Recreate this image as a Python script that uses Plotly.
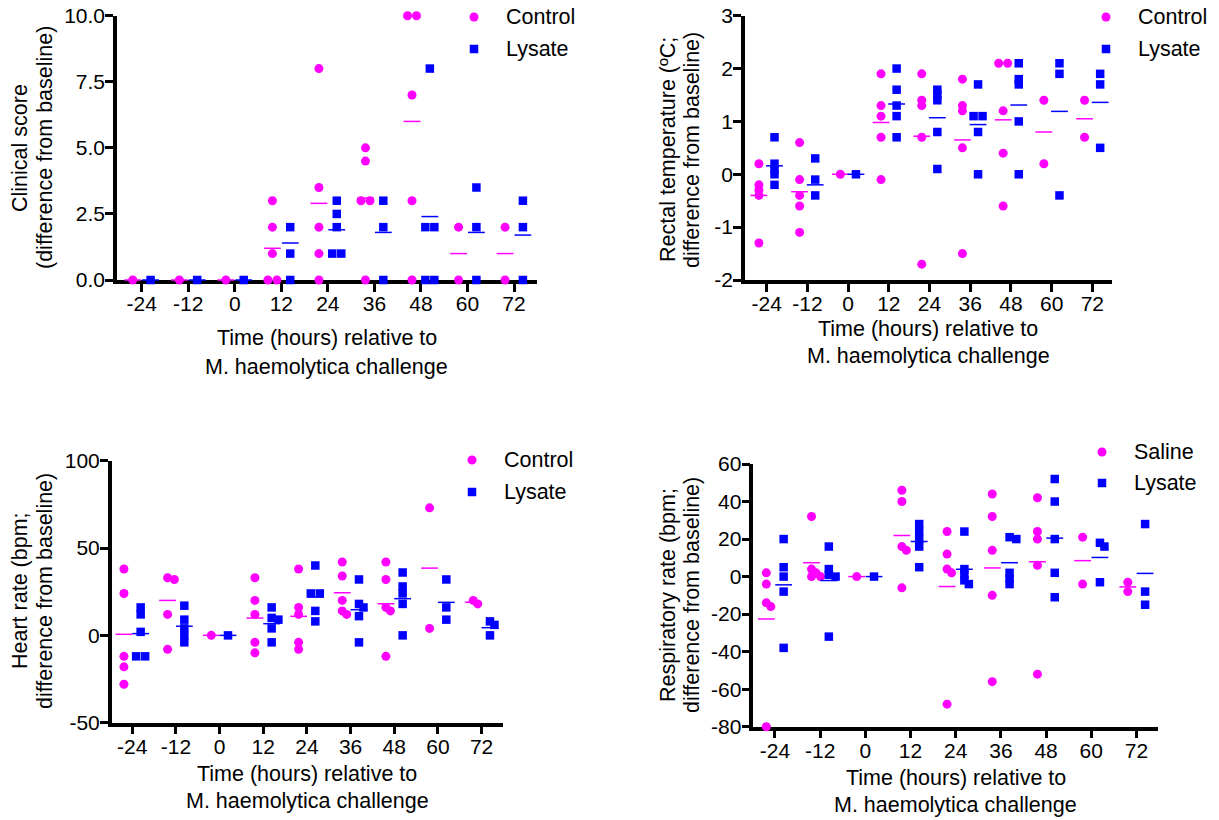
import plotly.graph_objects as go

W, H = 1219, 820
FONT = "Arial, Liberation Sans, Helvetica, sans-serif"
MAG = "#FF00FF"
BLU = "#0000FF"

TIMES = [-24, -12, 0, 12, 24, 36, 48, 60, 72]
TIME_LABELS = ["-24", "-12", "0", "12", "24", "36", "48", "60", "72"]

# ---------------- data ----------------
# Clinical score
clin_ctrl = [[0], [0], [0], [3, 2, 1, 0, 0], [8, 3.5, 2, 1, 0], [5, 4.5, 3, 3, 0],
             [10, 10, 7, 3, 0], [2, 0], [2, 0]]
clin_lys = [[0], [0], [0], [2, 1, 0], [3, 2.5, 2, 1, 1], [3, 2, 0],
            [8, 2, 2, 0, 0], [3.5, 2, 0], [3, 2, 0]]
clin_ctrl_mean = [0, 0, 0, 1.2, 2.9, 3.1, 6.0, 1.0, 1.0]
clin_lys_mean = [0, 0, 0, 1.4, 1.9, 1.8, 2.4, 1.8, 1.7]

# Rectal temperature
temp_ctrl = [[0.2, -0.2, -0.3, -0.4, -1.3], [0.6, -0.1, -0.4, -0.6, -1.1], [0],
             [1.9, 1.3, 1.1, 0.7, -0.1], [1.9, 1.4, 1.3, 0.7, -1.7], [1.8, 1.3, 1.2, 0.5, -1.5],
             [2.1, 2.1, 1.2, 0.4, -0.6], [1.4, 0.2], [1.4, 0.7]]
temp_lys = [[0.7, 0.2, 0.1, 0, -0.2], [0.3, -0.1, -0.4], [0],
            [2.0, 1.6, 1.3, 1.1, 0.7], [1.6, 1.5, 1.4, 0.8, 0.1], [1.7, 1.1, 1.1, 0.8, 0],
            [2.1, 1.8, 1.7, 1.0, 0], [2.1, 1.9, -0.4], [1.9, 1.7, 0.5]]
temp_ctrl_mean = [-0.4, -0.33, 0, 0.98, 0.72, 0.65, 1.03, 0.8, 1.05]
temp_lys_mean = [0.16, -0.2, 0, 1.33, 1.07, 0.94, 1.31, 1.19, 1.36]

# Heart rate
hr_ctrl = [[38, 24, -12, -18, -28], [33, 32, 12, -8], [0], [33, 20, 12, -4, -10],
           [38, 16, 12, -4, -8], [42, 34, 20, 14, 12], [42, 32, 16, 14, -12], [73, 4], [20, 18]]
hr_lys = [[16, 12, 2, -12, -12], [17, 9, 4, 0, -4], [0], [16, 10, 9, 4, -4],
          [40, 24, 24, 14, 8], [32, 18, 16, 11, -4], [36, 28, 24, 18, 0], [32, 16, 9], [8, 6, 0]]
hr_ctrl_mean = [0.6, 20, 0, 9.9, 10.9, 24.4, 18.1, 38.5, 19]
hr_lys_mean = [1.0, 5.2, 0, 6.7, 22, 14.7, 21.0, 18.9, 4.4]

# Respiratory rate
rr_ctrl = [[2, -4, -14, -16, -80], [32, 4, 2, 0, 0], [0], [46, 40, 16, 14, -6],
           [24, 12, 4, 2, -68], [44, 32, 14, -10, -56], [42, 24, 20, 6, -52], [21, -4], [-3, -8]]
rr_lys = [[20, 5, 0, -8, -38], [16, 4, 1, 0, -32], [0], [28, 24, 20, 16, 5],
          [24, 4, 1, -2, -4], [21, 20, 2, -1, -4], [52, 40, 20, 2, -11], [18, 16, -3], [28, -8, -15]]
rr_ctrl_mean = [-22.6, 7.4, 0, 21.9, -5.3, 4.6, 7.9, 8.5, -5.5]
rr_lys_mean = [-4.4, -2.1, 0, 18.7, 3.9, 7.4, 20.5, 10.2, 1.7]

# ---------------- layout of panels (pixels) ----------------
panels = [
    dict(key="", px=(117, 537), py=(15.7, 280), xr=(-30.37, 77.93), yr=(0, 10),
         yt=[0, 2.5, 5, 7.5, 10], ytt=["0.0", "2.5", "5.0", "7.5", "10.0"],
         ctrl=clin_ctrl, lys=clin_lys, cm=clin_ctrl_mean, lm=clin_lys_mean,
         ytitle=("Clinical score", "(difference from baseline)"), ytx=(20, 45), yty=148,
         xty=(338, 367), leg=("Control", "Lysate"), legx=474, legy=(17, 49)),
    dict(key="2", px=(745, 1111.7), py=(15.7, 280), xr=(-30.4, 77.7), yr=(-2, 3),
         yt=[-2, -1, 0, 1, 2, 3], ytt=["-2", "-1", "0", "1", "2", "3"],
         ctrl=temp_ctrl, lys=temp_lys, cm=temp_ctrl_mean, lm=temp_lys_mean,
         ytitle=("Rectal temperature (ºC;", "difference from baseline)"), ytx=(668, 692), yty=150,
         xty=(329, 356), leg=("Control", "Lysate"), legx=1106, legy=(17, 49)),
    dict(key="3", px=(111.7, 502.7), py=(460.7, 722.7), xr=(-29.66, 77.8), yr=(-50, 100),
         yt=[-50, 0, 50, 100], ytt=["-50", "0", "50", "100"],
         ctrl=hr_ctrl, lys=hr_lys, cm=hr_ctrl_mean, lm=hr_lys_mean,
         ytitle=("Heart rate (bpm;", "difference from baseline)"), ytx=(20, 45), yty=591,
         xty=(774, 801), leg=("Control", "Lysate"), legx=472, legy=(460, 492)),
    dict(key="4", px=(753.3, 1158.3), py=(464, 726.7), xr=(-29.76, 77.8), yr=(-80, 60),
         yt=[-80, -60, -40, -20, 0, 20, 40, 60], ytt=["-80", "-60", "-40", "-20", "0", "20", "40", "60"],
         ctrl=rr_ctrl, lys=rr_lys, cm=rr_ctrl_mean, lm=rr_lys_mean,
         ytitle=("Respiratory rate (bpm;", "difference from baseline)"), ytx=(668, 692), yty=595,
         xty=(778, 805), leg=("Saline", "Lysate"), legx=1102, legy=(452, 483)),
]

GROUP_SHIFT = 2.3   # hours, control left / lysate right of each tick
MK = 9.0            # marker diameter in px
TICK_FS = 21
TITLE_FS = 21.5


def swarm(vals, ppx, ppy, d=MK, thr=0.55):
    """Beeswarm-like horizontal offsets (in data units) for one column."""
    res = [0.0] * len(vals)
    placed = []
    cands = [0.0]
    for k in range(1, 16):
        cands += [k * 0.25, -k * 0.25]
    for v in sorted(set(vals), reverse=True):
        idx = [i for i, x in enumerate(vals) if x == v]
        c = len(idx)
        yp = v * ppy
        xs = None
        for s in cands:
            trial = [(s + j - (c - 1) / 2) * d for j in range(c)]
            if all((x - px) ** 2 + (yp - py) ** 2 >= (thr * d) ** 2
                   for x in trial for px, py in placed):
                xs = trial
                break
        if xs is None:
            xs = [(j - (c - 1) / 2) * d for j in range(c)]
        for j, i in enumerate(idx):
            res[i] = xs[j] / ppx
            placed.append((xs[j], yp))
    return res


fig = go.Figure()
layout = dict(width=W, height=H, margin=dict(l=0, r=0, t=0, b=0, pad=0, autoexpand=False),
              paper_bgcolor="white", plot_bgcolor="white", showlegend=False,
              font=dict(family=FONT, color="black"))
annotations = []
shapes = []

for p in panels:
    k = p["key"]
    xref, yref = "x" + k, "y" + k
    ppx = (p["px"][1] - p["px"][0]) / (p["xr"][1] - p["xr"][0])
    ppy = (p["py"][1] - p["py"][0]) / (p["yr"][1] - p["yr"][0])

    for series, shift, color, sym, size in ((p["ctrl"], -GROUP_SHIFT, MAG, "circle", MK),
                                             (p["lys"], GROUP_SHIFT, BLU, "square", MK - 0.5)):
        xs, ys = [], []
        for t, vals in zip(TIMES, series):
            offs = swarm(vals, ppx, ppy)
            for v, o in zip(vals, offs):
                xs.append(t + shift + o)
                ys.append(v)
        fig.add_trace(go.Scatter(x=xs, y=ys, mode="markers", xaxis=xref, yaxis=yref,
                                 cliponaxis=False,
                                 marker=dict(symbol=sym, size=size, color=color,
                                             line=dict(width=0))))
    for means, shift, color in ((p["cm"], -GROUP_SHIFT, MAG), (p["lm"], GROUP_SHIFT, BLU)):
        fig.add_trace(go.Scatter(x=[t + shift for t in TIMES], y=means, mode="markers",
                                 xaxis=xref, yaxis=yref, cliponaxis=False,
                                 marker=dict(symbol="line-ew", size=12,
                                             line=dict(width=1.5, color=color))))

    common = dict(showline=True, linecolor="black", linewidth=3.5, ticks="outside",
                  ticklen=8, tickwidth=3, tickcolor="black", showgrid=False,
                  zeroline=False, layer="below traces", fixedrange=True, automargin=False,
                  tickfont=dict(size=TICK_FS, color="black", family=FONT))
    layout["xaxis" + k] = dict(common, domain=[p["px"][0] / W, p["px"][1] / W],
                               range=list(p["xr"]), anchor=yref, ticklabelstandoff=-6,
                               tickvals=TIMES, ticktext=TIME_LABELS)
    layout["yaxis" + k] = dict(common, domain=[1 - p["py"][1] / H, 1 - p["py"][0] / H],
                               range=list(p["yr"]), anchor=xref, ticklabelstandoff=-4,
                               tickvals=p["yt"], ticktext=p["ytt"])

    # axis titles
    xc = (p["px"][0] + p["px"][1]) / 2
    for txt, yy in zip(("Time (hours) relative to", "M. haemolytica challenge"), p["xty"]):
        annotations.append(dict(text=txt, x=xc / W, y=1 - yy / H, xref="paper", yref="paper",
                                xanchor="center", yanchor="middle", showarrow=False,
                                font=dict(size=TITLE_FS, family=FONT, color="black")))
    for txt, xx in zip(p["ytitle"], p["ytx"]):
        annotations.append(dict(text=txt, x=xx / W, y=1 - p["yty"] / H, xref="paper",
                                yref="paper", xanchor="center", yanchor="middle",
                                textangle=-90, showarrow=False,
                                font=dict(size=TITLE_FS, family=FONT, color="black")))
    # legend
    r = MK / 2
    cx = p["legx"]
    cy0, cy1 = p["legy"]
    shapes.append(dict(type="circle", xref="paper", yref="paper",
                       x0=(cx - r) / W, x1=(cx + r) / W, y0=1 - (cy0 + r) / H, y1=1 - (cy0 - r) / H,
                       fillcolor=MAG, line=dict(width=0)))
    r2 = (MK - 0.5) / 2
    shapes.append(dict(type="rect", xref="paper", yref="paper",
                       x0=(cx - r2) / W, x1=(cx + r2) / W, y0=1 - (cy1 + r2) / H, y1=1 - (cy1 - r2) / H,
                       fillcolor=BLU, line=dict(width=0)))
    for txt, yy in zip(p["leg"], (cy0, cy1)):
        annotations.append(dict(text=txt, x=(cx + 30) / W, y=1 - yy / H, xref="paper",
                                yref="paper", xanchor="left", yanchor="middle", showarrow=False,
                                font=dict(size=TITLE_FS, family=FONT, color="black")))

layout["annotations"] = annotations
layout["shapes"] = shapes
fig.update_layout(**layout)
fig.write_html("out.html",
               post_script="document.documentElement.style.margin='0';"
                           "document.body.style.margin='0';"
                           "document.body.style.overflow='hidden';")
